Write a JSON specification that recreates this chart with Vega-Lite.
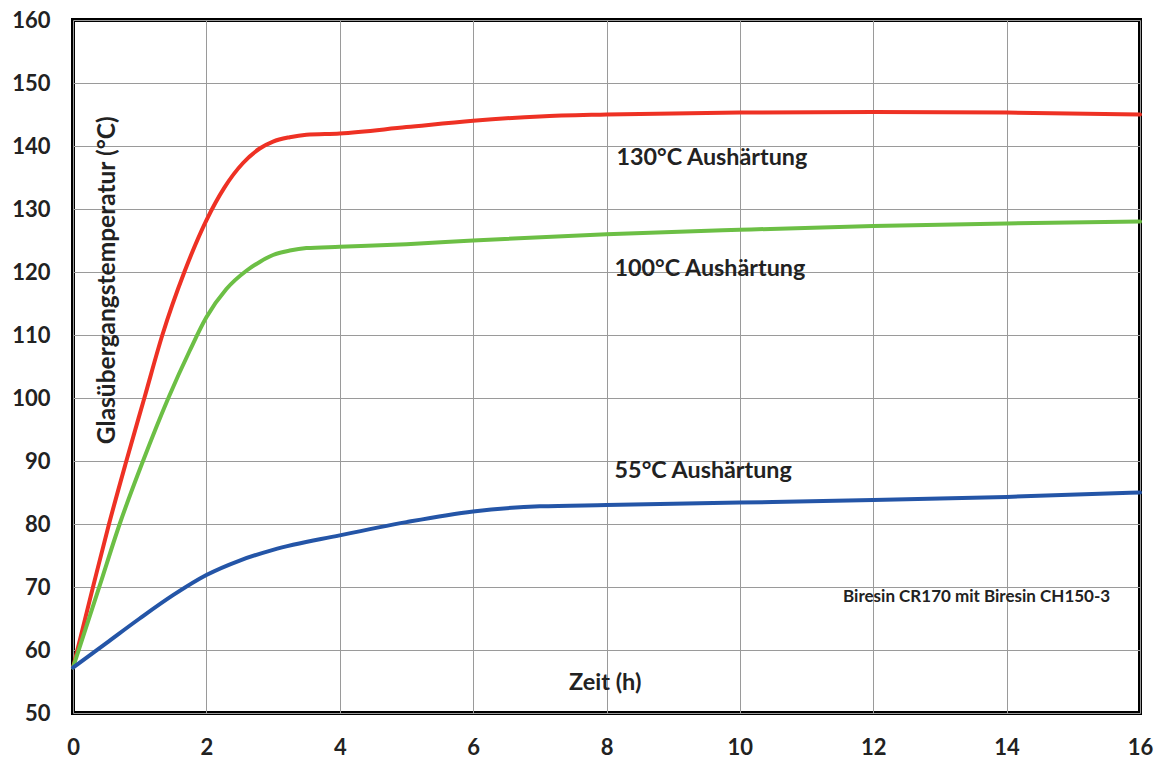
{
  "$schema": "https://vega.github.io/schema/vega-lite/v6.json",
  "width": 1067,
  "height": 693,
  "autosize": {"type": "none"},
  "padding": {"left": 73, "top": 20, "right": 30, "bottom": 45},
  "background": "white",
  "config": {
    "view": {"stroke": "black", "strokeWidth": 4},
    "font": "Lato"
  },
  "datasets": {
    "curves": [
      {"t": 0, "tg": 57.2, "series": "130°C"},
      {"t": 0.3, "tg": 70, "series": "130°C"},
      {"t": 0.54, "tg": 80, "series": "130°C"},
      {"t": 0.8, "tg": 90, "series": "130°C"},
      {"t": 1.07, "tg": 100, "series": "130°C"},
      {"t": 1.34, "tg": 110, "series": "130°C"},
      {"t": 1.67, "tg": 120, "series": "130°C"},
      {"t": 2, "tg": 128.2, "series": "130°C"},
      {"t": 2.27, "tg": 133.4, "series": "130°C"},
      {"t": 2.55, "tg": 137.3, "series": "130°C"},
      {"t": 2.8, "tg": 139.6, "series": "130°C"},
      {"t": 3, "tg": 140.7, "series": "130°C"},
      {"t": 3.25, "tg": 141.4, "series": "130°C"},
      {"t": 3.5, "tg": 141.8, "series": "130°C"},
      {"t": 4, "tg": 142, "series": "130°C"},
      {"t": 5, "tg": 143, "series": "130°C"},
      {"t": 6, "tg": 144, "series": "130°C"},
      {"t": 7, "tg": 144.7, "series": "130°C"},
      {"t": 8, "tg": 145, "series": "130°C"},
      {"t": 10, "tg": 145.3, "series": "130°C"},
      {"t": 12, "tg": 145.4, "series": "130°C"},
      {"t": 14, "tg": 145.3, "series": "130°C"},
      {"t": 16, "tg": 145, "series": "130°C"},
      {"t": 0, "tg": 57.2, "series": "100°C"},
      {"t": 0.4, "tg": 70.2, "series": "100°C"},
      {"t": 0.7, "tg": 80, "series": "100°C"},
      {"t": 1.05, "tg": 90, "series": "100°C"},
      {"t": 1.43, "tg": 100, "series": "100°C"},
      {"t": 1.75, "tg": 107.5, "series": "100°C"},
      {"t": 2, "tg": 112.8, "series": "100°C"},
      {"t": 2.3, "tg": 117.3, "series": "100°C"},
      {"t": 2.6, "tg": 120.2, "series": "100°C"},
      {"t": 2.8, "tg": 121.6, "series": "100°C"},
      {"t": 3, "tg": 122.7, "series": "100°C"},
      {"t": 3.25, "tg": 123.4, "series": "100°C"},
      {"t": 3.5, "tg": 123.8, "series": "100°C"},
      {"t": 4, "tg": 124, "series": "100°C"},
      {"t": 5, "tg": 124.4, "series": "100°C"},
      {"t": 6, "tg": 125, "series": "100°C"},
      {"t": 8, "tg": 126, "series": "100°C"},
      {"t": 10, "tg": 126.7, "series": "100°C"},
      {"t": 12, "tg": 127.3, "series": "100°C"},
      {"t": 14, "tg": 127.7, "series": "100°C"},
      {"t": 16, "tg": 128, "series": "100°C"},
      {"t": 0, "tg": 57.2, "series": "55°C"},
      {"t": 0.5, "tg": 61.1, "series": "55°C"},
      {"t": 1, "tg": 65, "series": "55°C"},
      {"t": 1.5, "tg": 68.7, "series": "55°C"},
      {"t": 2, "tg": 71.9, "series": "55°C"},
      {"t": 2.5, "tg": 74.2, "series": "55°C"},
      {"t": 3, "tg": 75.9, "series": "55°C"},
      {"t": 4, "tg": 78.2, "series": "55°C"},
      {"t": 5, "tg": 80.3, "series": "55°C"},
      {"t": 6, "tg": 82, "series": "55°C"},
      {"t": 7, "tg": 82.8, "series": "55°C"},
      {"t": 8, "tg": 83, "series": "55°C"},
      {"t": 10, "tg": 83.4, "series": "55°C"},
      {"t": 12, "tg": 83.8, "series": "55°C"},
      {"t": 14, "tg": 84.3, "series": "55°C"},
      {"t": 16, "tg": 85, "series": "55°C"}
    ],
    "labels": [
      {"t": 9.58, "tg": 138.1, "text": "130°C Aushärtung", "size": 23.3},
      {"t": 9.55, "tg": 120.5, "text": "100°C Aushärtung", "size": 23.3},
      {"t": 9.45, "tg": 88.4, "text": "55°C Aushärtung", "size": 23.3},
      {"t": 7.98, "tg": 54.8, "text": "Zeit (h)", "size": 23.5},
      {"t": 13.55, "tg": 68.4, "text": "Biresin CR170 mit Biresin CH150-3", "size": 17}
    ],
    "ytitle": [
      {"t": 0.53, "tg": 118.7, "text": "Glasübergangstemperatur (°C)"}
    ]
  },
  "layer": [
    {
      "data": {"name": "curves"},
      "mark": {"type": "line", "interpolate": "monotone", "strokeWidth": 4, "strokeCap": "round"},
      "encoding": {
        "x": {
          "field": "t", "type": "quantitative",
          "scale": {"domain": [0, 16], "nice": false},
          "axis": {
            "values": [0, 2, 4, 6, 8, 10, 12, 14, 16],
            "format": "d", "labelFlush": false,
            "title": null, "domain": false, "ticks": false,
            "labelFont": "Lato", "labelFontSize": 22, "labelFontWeight": "bold",
            "labelColor": "#222", "labelPadding": 24,
            "grid": true, "gridColor": "#9a9a9a", "gridWidth": 1
          }
        },
        "y": {
          "field": "tg", "type": "quantitative",
          "scale": {"domain": [50, 160], "nice": false},
          "axis": {
            "values": [50, 60, 70, 80, 90, 100, 110, 120, 130, 140, 150, 160],
            "format": "d", "labelFlush": false,
            "title": null, "domain": false, "ticks": false,
            "labelFont": "Lato", "labelFontSize": 22, "labelFontWeight": "bold",
            "labelColor": "#222", "labelPadding": 23,
            "grid": true, "gridColor": "#9a9a9a", "gridWidth": 1
          }
        },
        "color": {
          "field": "series", "type": "nominal",
          "scale": {"domain": ["130°C", "100°C", "55°C"], "range": ["#ee3124", "#6cbf45", "#2455a7"]},
          "legend": null
        }
      }
    },
    {
      "data": {"name": "labels"},
      "mark": {"type": "text", "font": "Lato", "fontWeight": "bold", "color": "#222", "align": "center", "baseline": "middle"},
      "encoding": {
        "x": {"field": "t", "type": "quantitative"},
        "y": {"field": "tg", "type": "quantitative"},
        "text": {"field": "text"},
        "size": {"field": "size", "type": "quantitative", "scale": null}
      }
    },
    {
      "data": {"name": "ytitle"},
      "mark": {"type": "text", "font": "Lato", "fontWeight": "bold", "fontSize": 24.5, "color": "#222", "align": "center", "baseline": "middle", "angle": 270},
      "encoding": {
        "x": {"field": "t", "type": "quantitative"},
        "y": {"field": "tg", "type": "quantitative"},
        "text": {"field": "text"}
      }
    }
  ]
}
